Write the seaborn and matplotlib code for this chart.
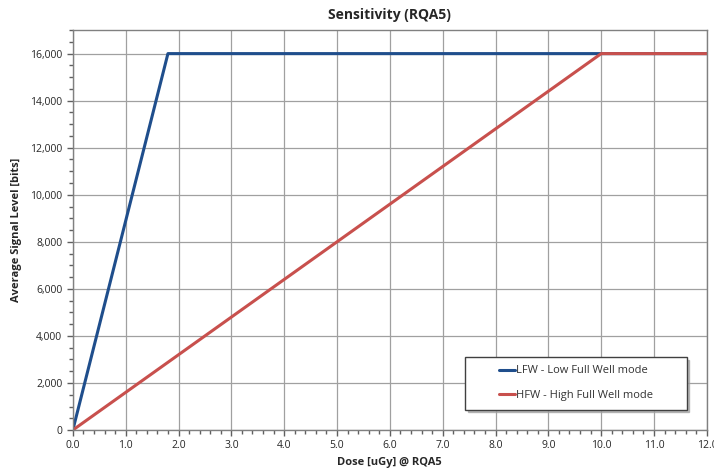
import pandas as pd
import matplotlib.pyplot as plt
from matplotlib.ticker import MultipleLocator, FuncFormatter
from matplotlib.offsetbox import DrawingArea
import seaborn as sns

# dose [uGy] and signal [bits] breakpoints for each mode
dosis_lfw = [0.0, 1.8, 12.0]
senal_lfw = [0, 16000, 16000]
dosis_hfw = [0.0, 10.0, 12.0]
senal_hfw = [0, 16000, 16000]
etiquetas = ['LFW - Low Full Well mode', 'HFW - High Full Well mode']
colores = ['#1F4E8C', '#C8504D']

datos = pd.concat([
    pd.DataFrame({'dosis': dosis_lfw, 'senal': senal_lfw, 'modo': etiquetas[0]}),
    pd.DataFrame({'dosis': dosis_hfw, 'senal': senal_hfw, 'modo': etiquetas[1]}),
])

sns.set_style('white')
plt.rcParams['font.family'] = ['Open Sans', 'DejaVu Sans']

fig = plt.figure(figsize=(7.14, 4.70), dpi=100)
ax = fig.add_axes([0.102, 0.085, 0.888, 0.851])

sns.lineplot(data=datos, x='dosis', y='senal', hue='modo', palette=colores,
             linewidth=2.2, ax=ax, sort=False, estimator=None)

ax.set_xlim(0, 12)
ax.set_ylim(0, 17000)
ax.xaxis.set_major_locator(MultipleLocator(1))
ax.xaxis.set_minor_locator(MultipleLocator(0.2))
ax.yaxis.set_major_locator(MultipleLocator(2000))
ax.yaxis.set_minor_locator(MultipleLocator(500))
ax.xaxis.set_major_formatter(FuncFormatter(lambda v, p: f'{v:.1f}'))
ax.yaxis.set_major_formatter(FuncFormatter(lambda v, p: f'{int(v):,}'))
ax.grid(True, which='major', color='#A0A0A0', linewidth=0.9)
ax.set_axisbelow(True)

for s in ax.spines.values():
    s.set_color('#808080')
    s.set_linewidth(1.0)
ax.tick_params(which='both', direction='out', color='#606060', labelsize=7.5,
               bottom=True, left=True)
ax.tick_params(which='major', length=4, width=1)
ax.tick_params(which='minor', length=3, width=1)

ax.set_title('Sensitivity (RQA5)', fontsize=10, fontweight='bold', pad=8)
ax.set_xlabel('Dose [uGy] @ RQA5', fontsize=8, fontweight='bold', labelpad=4)
ax.set_ylabel('Average Signal Level [bits]', fontsize=8, fontweight='bold', labelpad=6)

leg = ax.legend(loc='lower right', bbox_to_anchor=(0.977, 0.037), fontsize=8,
                handlelength=1.5, handletextpad=0.1, labelspacing=1.25,
                borderpad=0.75, columnspacing=0, fancybox=False,
                shadow={'color': '#a0a0a0', 'alpha': 0.7},
                edgecolor='#404040', framealpha=1, title=None)
leg._legend_box.sep = 0
# extra side padding inside the frame, like the original legend box
caja = leg._legend_handle_box
caja._children = [DrawingArea(18, 1)] + list(caja._children) + [DrawingArea(18, 1)]
for t in leg.get_texts():
    t.set_color('#333333')

fig.savefig('out.png', dpi=100)
